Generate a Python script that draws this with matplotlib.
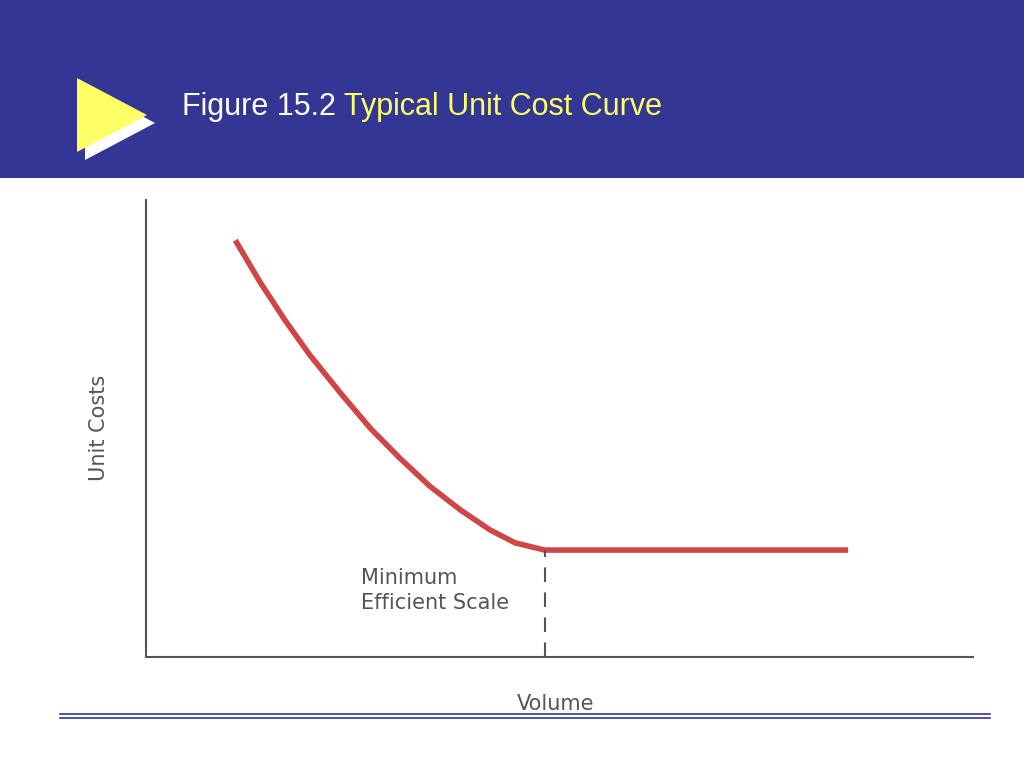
import numpy as np
import matplotlib.pyplot as plt
from matplotlib.patches import Rectangle, Polygon

# curve (volume 0-100, unit cost 0-100)
volume = [10.8, 13.8, 16.8, 19.8, 23.5, 27.1, 30.7, 34.3, 38.0, 41.6, 44.6, 48.2, 84.9]
unit_cost = [91.2, 82.0, 73.7, 66.1, 57.8, 50.1, 43.5, 37.4, 32.2, 27.8, 25.0, 23.4, 23.4]
mes = 48.2

W, H = 1024, 768
fig = plt.figure(figsize=(W / 100, H / 100), dpi=100)
fig.patch.set_facecolor('white')

# header band
fig.patches.append(Rectangle((0, 1 - 178 / H), 1, 178 / H, transform=fig.transFigure,
                             facecolor='#343694', edgecolor='none', zorder=0))
tri = lambda dx, dy: [((77 + dx) / W, 1 - (78 + dy) / H), ((77 + dx) / W, 1 - (152 + dy) / H),
                      ((147 + dx) / W, 1 - (115 + dy) / H)]
fig.patches.append(Polygon(tri(8, 8), closed=True, transform=fig.transFigure,
                           facecolor='white', edgecolor='none', zorder=1))
fig.patches.append(Polygon(tri(0, 0), closed=True, transform=fig.transFigure,
                           facecolor='#FFFF66', edgecolor='none', zorder=2))
t = fig.text(182 / W, 1 - 107 / H, 'Figure 15.2 ', color='white', fontsize=22,
             va='center', family='Liberation Sans')
fig.canvas.draw()
bb = t.get_window_extent()
fig.text(bb.x1 / W, 1 - 107 / H, 'Typical Unit Cost Curve', color='#FFFF66', fontsize=22,
         va='center', family='Liberation Sans')

# bottom double rule
for y in (714, 718):
    fig.add_artist(plt.Line2D([60 / W, 990 / W], [1 - y / H] * 2, color='#343694', lw=1.2))

ax = fig.add_axes([146 / W, (H - 657) / H, 827 / W, 457 / H])
ax.plot(volume, unit_cost, color='#D04545', lw=4, solid_capstyle='butt')
ax.plot([mes, mes], [0, unit_cost[-1]], color='#555555', lw=1.5, dashes=(7, 5))
ax.text(26, 14.5, 'Minimum\nEfficient Scale', fontsize=15, color='#555555',
        va='center', ha='left', linespacing=1.3)
ax.set_xlim(0, 100)
ax.set_ylim(0, 100)
ax.set_xticks([])
ax.set_yticks([])
for s in ('top', 'right'):
    ax.spines[s].set_visible(False)
for s in ('left', 'bottom'):
    ax.spines[s].set_color('#555555')
    ax.spines[s].set_linewidth(1.5)
ax.set_xlabel('Volume', fontsize=15, color='#555555')
ax.set_ylabel('Unit Costs', fontsize=15, color='#555555')
ax.xaxis.set_label_coords((556 - 146) / 827, -0.08)
ax.yaxis.set_label_coords(-0.045, (657 - 428) / 457)

fig.savefig('out.png', dpi=100)
